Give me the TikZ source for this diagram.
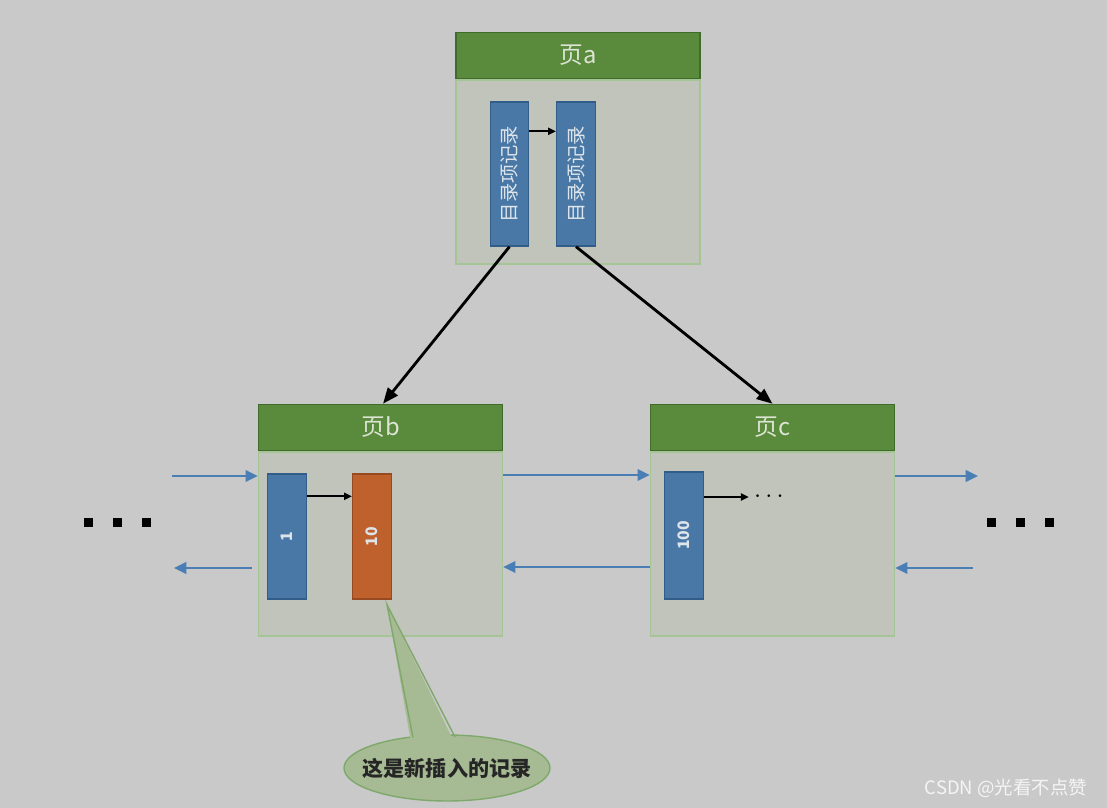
\documentclass[tikz,border=0pt]{standalone}
\usepackage{fontspec}
\usepackage{graphicx}
\setmainfont{Noto Sans CJK SC}
\usetikzlibrary{arrows.meta,positioning,calc,shapes.geometric}
\definecolor{cbg}{HTML}{C9C9C9}
\definecolor{cpage}{HTML}{C1C4BB}
\definecolor{cpaged}{HTML}{A6C597}
\definecolor{chdr}{HTML}{5A8A3B}
\definecolor{chdrd}{HTML}{3F6B2B}
\definecolor{chdrt}{HTML}{DCE4D4}
\definecolor{crec}{HTML}{4A78A6}
\definecolor{crecd}{HTML}{315D88}
\definecolor{cnew}{HTML}{BF612D}
\definecolor{cnewd}{HTML}{974A22}
\definecolor{crect}{HTML}{DDE4EA}
\definecolor{clink}{HTML}{4A7FB5}
\definecolor{cnote}{HTML}{A6BA93}
\definecolor{cnoted}{HTML}{7FA86B}

\begin{document}
\begin{tikzpicture}[
  x=0.02cm, y=-0.02cm,
  page/.style={draw=cpaged, fill=cpage, line width=0.8pt, minimum width=4.88cm, minimum height=3.68cm, inner sep=0pt},
  hdr/.style={draw=chdrd, fill=chdr, line width=0.9pt, minimum width=4.88cm, minimum height=0.92cm, inner sep=0pt,
              text=chdrt, font=\fontsize{13.5}{14}\selectfont},
  rec/.style={draw=crecd, fill=crec, line width=0.8pt, minimum width=0.77cm, inner sep=0pt,
              text=crect, font=\fontsize{11}{12}\selectfont},
  newrec/.style={rec, draw=cnewd, fill=cnew},
  ptr/.style={-{Triangle[length=4.5pt,width=4pt]}, line width=1.1pt, draw=black},
  down/.style={-{Triangle[length=9pt,width=7pt]}, line width=1.6pt, draw=black},
  link/.style={-{Triangle[length=7pt,width=6.5pt]}, line width=1.4pt, draw=clink},
]
\newcommand{\vtxt}[1]{\rotatebox{90}{#1}}

% ------------------------------------------------------------------ background
\fill[cbg] (0,0) rectangle (1107,808);

% ------------------------------------------------------------------ page a
\node[page] (bodya) at (578,172) {};
\node[hdr, above=0pt of bodya] (hdra) {页a};
\node[rec, minimum height=2.88cm] (ra1) at (509.5,174) {\vtxt{目录项记录}};
\node[rec, minimum height=2.88cm] (ra2) at (576,174) {\vtxt{目录项记录}};
\draw[ptr] ([yshift=-0.6cm]ra1.north east) -- ([yshift=-0.6cm]ra2.north west);

% ------------------------------------------------------------------ page b
\node[page] (bodyb) at (380.5,544) {};
\node[hdr, above=0pt of bodyb] (hdrb) {页b};
\node[rec, minimum height=2.5cm, font=\fontsize{9}{10}\selectfont\bfseries] (r1) at (287,536.5) {\vtxt{1}};
\node[newrec, minimum height=2.5cm, font=\fontsize{9}{10}\selectfont\bfseries] (r10) at (372,536.5) {\vtxt{10}};
\draw[ptr] ([yshift=-0.46cm]r1.north east) -- ([yshift=-0.46cm]r10.north west);

% ------------------------------------------------------------------ page c
\node[page] (bodyc) at (772.5,544) {};
\node[hdr, above=0pt of bodyc] (hdrc) {页c};
\node[rec, minimum height=2.54cm, font=\fontsize{9}{10}\selectfont\bfseries] (r100) at (684,535.5) {\vtxt{100}};
\node[inner sep=0pt, font=\Large] (more) at (769,497) {$\cdots$};
\draw[ptr] (r100.east |- more.west) -- ([xshift=-0.1cm]more.west);

% ------------------------------------------------------------------ index pointers
\draw[down] (ra1.south) -- ([xshift=0.05cm]hdrb.north);
\draw[down] (ra2.south) -- (hdrc.north);

% ------------------------------------------------------------------ sibling links
\coordinate (lin)  at (172,476);
\coordinate (lout) at (174,568);
\coordinate (rout) at (978,476);
\coordinate (rin)  at (973,568);
\draw[link] (lin) -- (lin -| bodyb.west);
\draw[link] (lout -| bodyb.west) ++(-0.12cm,0) -- (lout);
\draw[link] (bodyb.east |- 0,475) -- (bodyc.west |- 0,475);
\draw[link] (bodyc.west |- 0,567) -- (bodyb.east |- 0,567);
\draw[link] (rout -| bodyc.east) -- (rout);
\draw[link] (rin) -- (rin -| bodyc.east);

% more pages on both sides
\foreach \x in {88,117,146,991,1020,1049}
  \fill[black] (\x-4.5,517.5) rectangle (\x+4.5,526.5);

% ------------------------------------------------------------------ callout
\node[ellipse, draw=cnoted, fill=cnote, line width=0.8pt, minimum width=4.12cm, minimum height=1.32cm,
      inner sep=0pt] (note) at (447,768) {};
\coordinate (tip) at ([xshift=0.3cm,yshift=-0.1cm]r10.south);
\fill[cnote] ([xshift=-0.7cm,yshift=0.4cm]note.center) -- (tip) -- ([xshift=0.2cm,yshift=0.4cm]note.center) -- cycle;
\draw[cnoted, line width=0.8pt] ([xshift=-0.68cm,yshift=0.61cm]note.center) -- (tip) -- ([xshift=0.16cm,yshift=0.62cm]note.center);
\node[font=\fontsize{12}{13}\selectfont\bfseries, text=black!85] at (note.center) {这是新插入的记录};

% ------------------------------------------------------------------ watermark
\node[text=white!96!black, font=\fontsize{10.5}{11}\selectfont] (mark) at (1006,788) {CSDN @光看不点赞};
\end{tikzpicture}
\end{document}
